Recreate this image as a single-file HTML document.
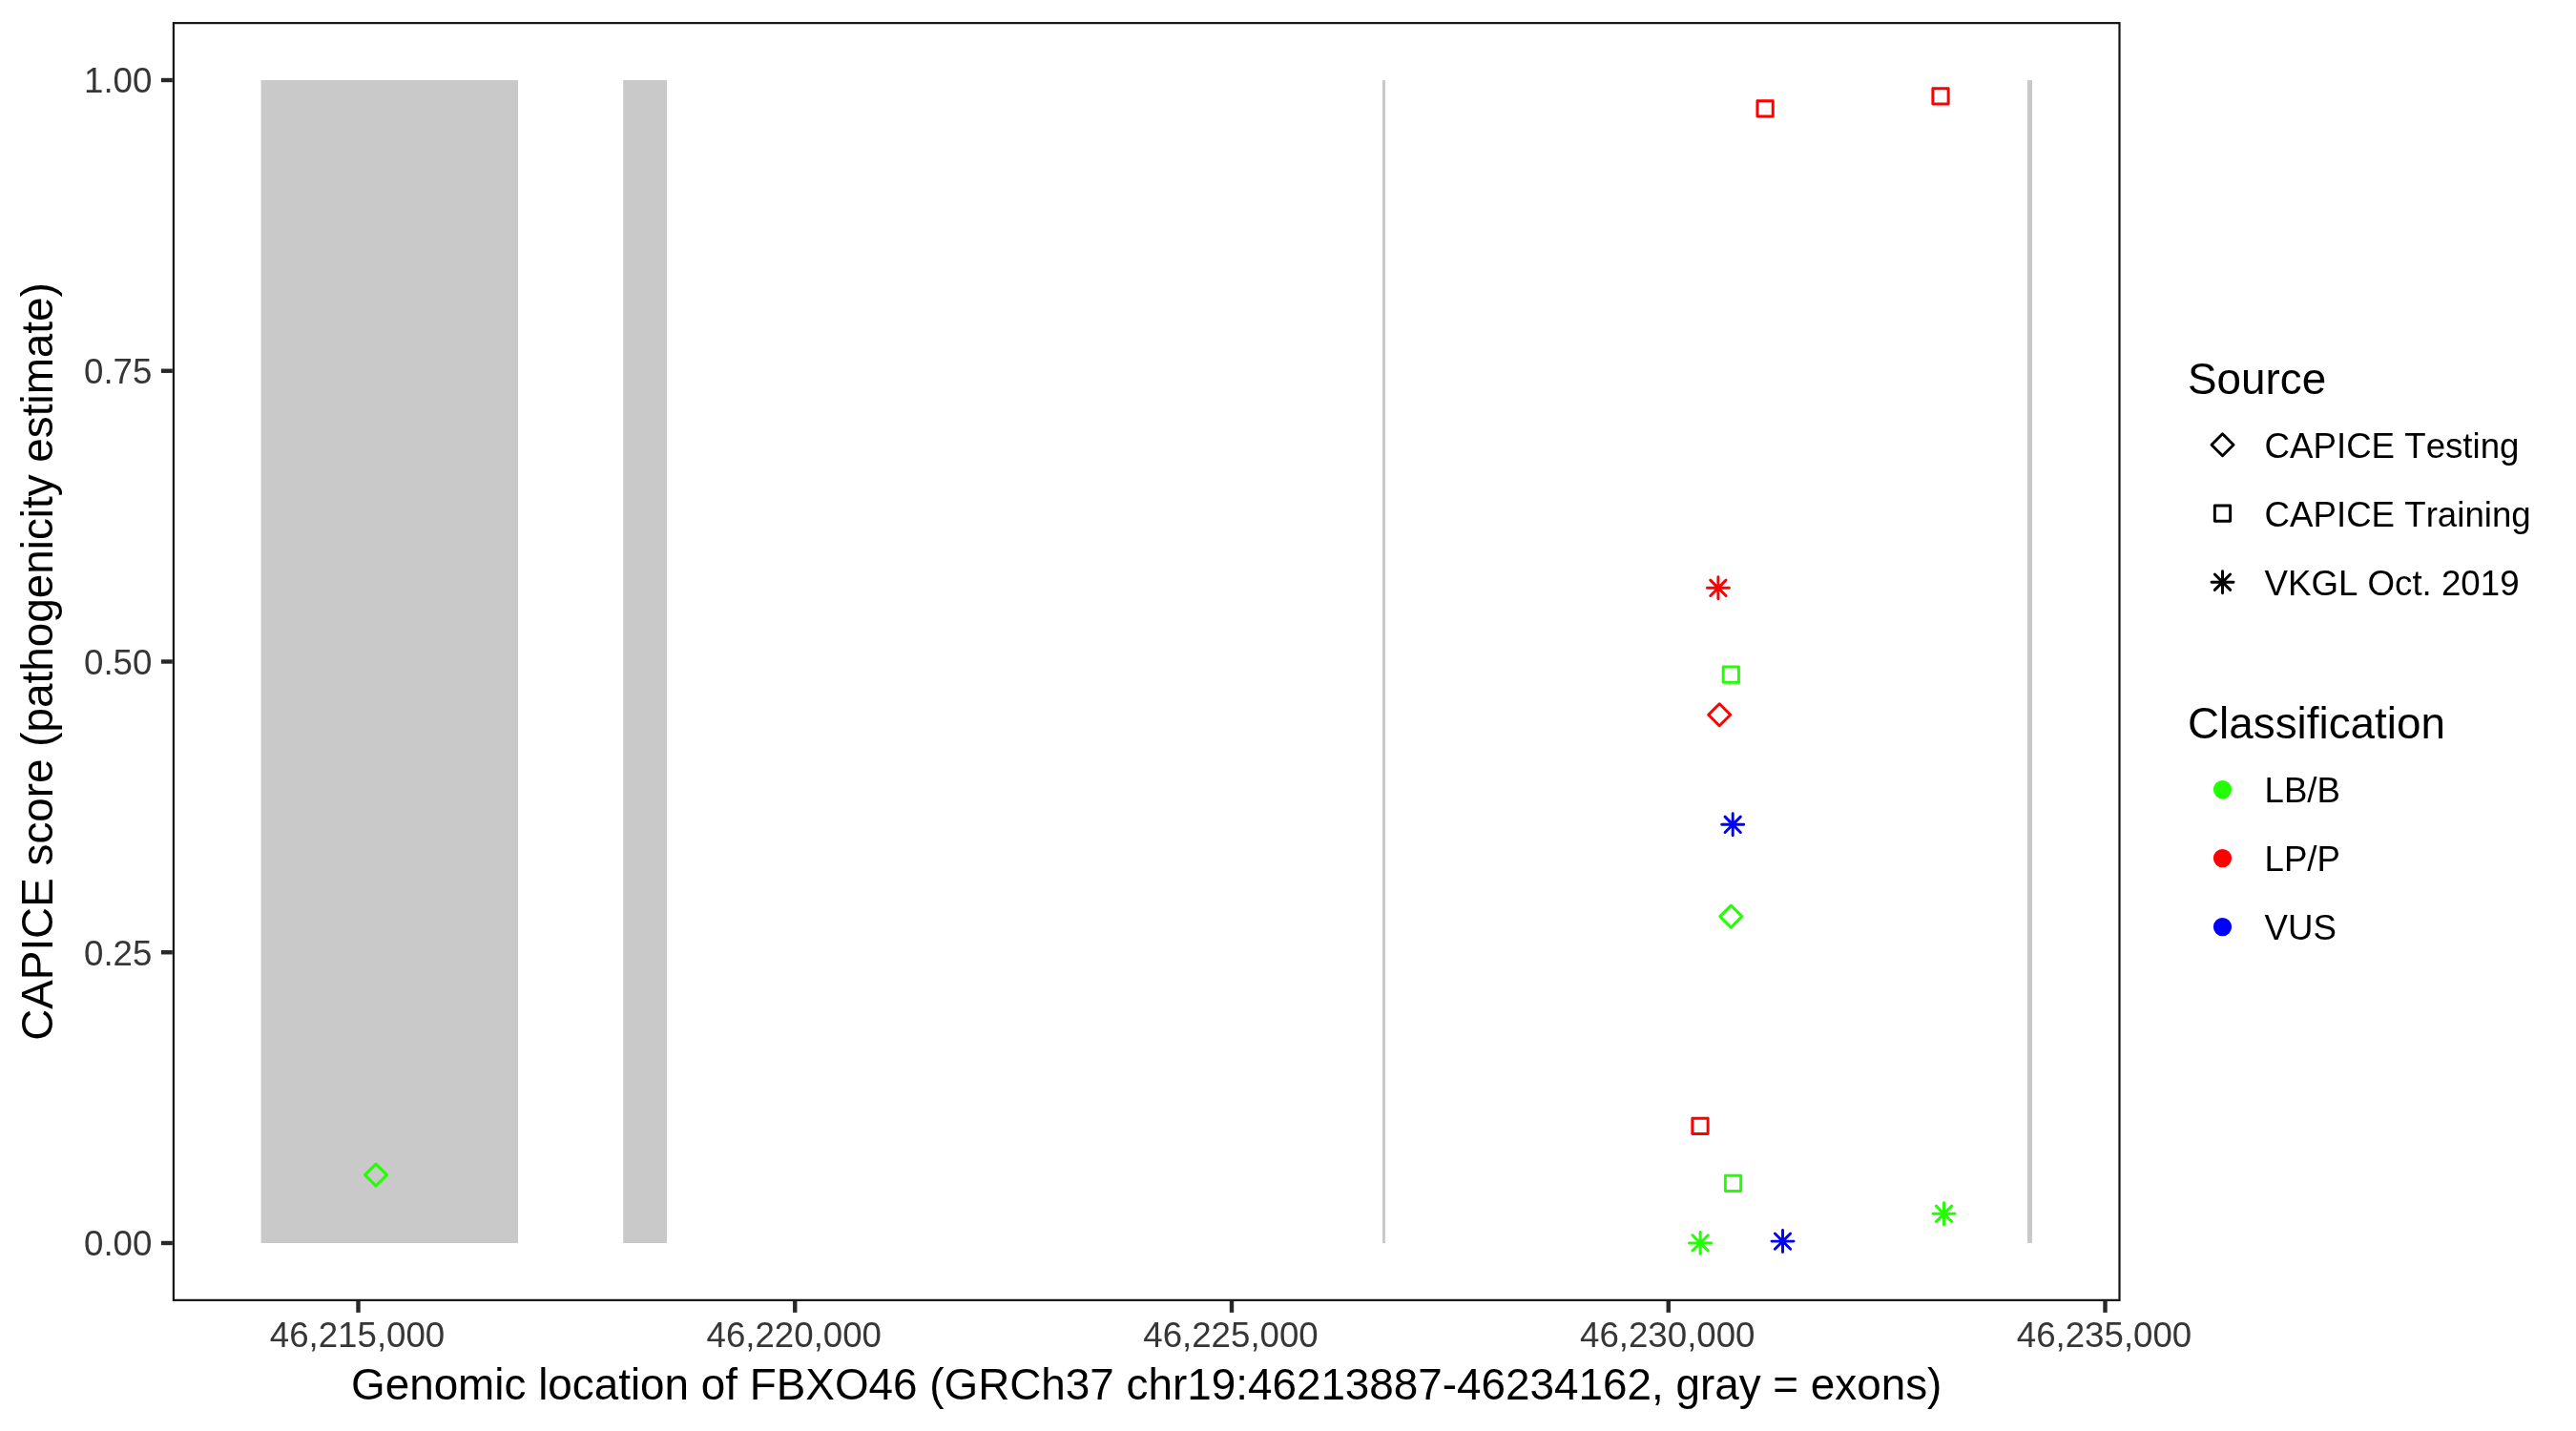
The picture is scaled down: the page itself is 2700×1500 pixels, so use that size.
<!DOCTYPE html><html><head><meta charset="utf-8"><style>html,body{margin:0;padding:0;background:#fff;}svg{display:block;will-change:transform;}text{font-family:"Liberation Sans",sans-serif;font-kerning:none;}</style></head><body>
<svg width="2700" height="1500" viewBox="0 0 2700 1500">
<rect x="0" y="0" width="2700" height="1500" fill="#fff"/>
<rect x="273.6" y="84.0" width="269.40" height="1219.00" fill="#C9C9C9"/>
<rect x="653.2" y="84.0" width="45.80" height="1219.00" fill="#C9C9C9"/>
<rect x="1449.0" y="84.0" width="3.00" height="1219.00" fill="#C9C9C9"/>
<rect x="2125.0" y="84.0" width="5.00" height="1219.00" fill="#C9C9C9"/>
<path d="M382.49 1231.60L394.00 1220.09L405.51 1231.60L394.00 1243.11Z" fill="none" stroke="#22FF00" stroke-width="2.95" stroke-linejoin="round"/>
<rect x="1841.96" y="105.76" width="16.28" height="16.28" fill="none" stroke="#FF0000" stroke-width="2.95" stroke-linejoin="round"/>
<rect x="2025.86" y="92.66" width="16.28" height="16.28" fill="none" stroke="#FF0000" stroke-width="2.95" stroke-linejoin="round"/>
<path d="M1792.76 608.16L1809.04 624.44M1792.76 624.44L1809.04 608.16M1789.39 616.30L1812.41 616.30M1800.90 604.79L1800.90 627.81" fill="none" stroke="#FF0000" stroke-width="2.95" stroke-linecap="round"/>
<rect x="1806.16" y="698.96" width="16.28" height="16.28" fill="none" stroke="#22FF00" stroke-width="2.95" stroke-linejoin="round"/>
<path d="M1790.69 749.20L1802.20 737.69L1813.71 749.20L1802.20 760.71Z" fill="none" stroke="#FF0000" stroke-width="2.95" stroke-linejoin="round"/>
<path d="M1808.06 856.16L1824.34 872.44M1808.06 872.44L1824.34 856.16M1804.69 864.30L1827.71 864.30M1816.20 852.79L1816.20 875.81" fill="none" stroke="#0000FF" stroke-width="2.95" stroke-linecap="round"/>
<path d="M1802.79 960.60L1814.30 949.09L1825.81 960.60L1814.30 972.11Z" fill="none" stroke="#22FF00" stroke-width="2.95" stroke-linejoin="round"/>
<rect x="1773.86" y="1172.16" width="16.28" height="16.28" fill="none" stroke="#FF0000" stroke-width="2.95" stroke-linejoin="round"/>
<rect x="1808.36" y="1232.26" width="16.28" height="16.28" fill="none" stroke="#22FF00" stroke-width="2.95" stroke-linejoin="round"/>
<path d="M1773.96 1294.76L1790.24 1311.04M1773.96 1311.04L1790.24 1294.76M1770.59 1302.90L1793.61 1302.90M1782.10 1291.39L1782.10 1314.41" fill="none" stroke="#22FF00" stroke-width="2.95" stroke-linecap="round"/>
<path d="M1860.36 1292.96L1876.64 1309.24M1860.36 1309.24L1876.64 1292.96M1856.99 1301.10L1880.01 1301.10M1868.50 1289.59L1868.50 1312.61" fill="none" stroke="#0000FF" stroke-width="2.95" stroke-linecap="round"/>
<path d="M2029.36 1264.16L2045.64 1280.44M2029.36 1280.44L2045.64 1264.16M2025.99 1272.30L2049.01 1272.30M2037.50 1260.79L2037.50 1283.81" fill="none" stroke="#22FF00" stroke-width="2.95" stroke-linecap="round"/>
<rect x="181.90" y="24.15" width="2039.60" height="1338.70" fill="none" stroke="#141414" stroke-width="2.20"/>
<rect x="168.90" y="1300.80" width="11.9" height="4.4" fill="#282828"/>
<text x="159.4" y="1316.40" font-size="36.67" fill="#363636" text-anchor="end">0.00</text>
<rect x="168.90" y="996.05" width="11.9" height="4.4" fill="#282828"/>
<text x="159.4" y="1011.65" font-size="36.67" fill="#363636" text-anchor="end">0.25</text>
<rect x="168.90" y="691.30" width="11.9" height="4.4" fill="#282828"/>
<text x="159.4" y="706.90" font-size="36.67" fill="#363636" text-anchor="end">0.50</text>
<rect x="168.90" y="386.55" width="11.9" height="4.4" fill="#282828"/>
<text x="159.4" y="402.15" font-size="36.67" fill="#363636" text-anchor="end">0.75</text>
<rect x="168.90" y="81.80" width="11.9" height="4.4" fill="#282828"/>
<text x="159.4" y="97.40" font-size="36.67" fill="#363636" text-anchor="end">1.00</text>
<rect x="373.30" y="1363.95" width="4.4" height="11.9" fill="#282828"/>
<text x="374.50" y="1412" font-size="36.67" fill="#363636" text-anchor="middle">46,215,000</text>
<rect x="831.05" y="1363.95" width="4.4" height="11.9" fill="#282828"/>
<text x="832.25" y="1412" font-size="36.67" fill="#363636" text-anchor="middle">46,220,000</text>
<rect x="1288.80" y="1363.95" width="4.4" height="11.9" fill="#282828"/>
<text x="1290.00" y="1412" font-size="36.67" fill="#363636" text-anchor="middle">46,225,000</text>
<rect x="1746.55" y="1363.95" width="4.4" height="11.9" fill="#282828"/>
<text x="1747.75" y="1412" font-size="36.67" fill="#363636" text-anchor="middle">46,230,000</text>
<rect x="2204.30" y="1363.95" width="4.4" height="11.9" fill="#282828"/>
<text x="2205.50" y="1412" font-size="36.67" fill="#363636" text-anchor="middle">46,235,000</text>
<text x="1201.70" y="1467.2" font-size="45.83" fill="#000" text-anchor="middle">Genomic location of FBXO46 (GRCh37 chr19:46213887-46234162, gray = exons)</text>
<text transform="translate(55,693.50) rotate(-90)" x="0" y="0" font-size="45.83" fill="#000" text-anchor="middle">CAPICE score (pathogenicity estimate)</text>
<text x="2293.0" y="413.2" font-size="45.83" fill="#000">Source</text>
<path d="M2317.99 466.20L2329.50 454.69L2341.01 466.20L2329.50 477.71Z" fill="none" stroke="#000" stroke-width="2.95" stroke-linejoin="round"/>
<text x="2373.6" y="479.70" font-size="36.67" fill="#000">CAPICE Testing</text>
<rect x="2321.36" y="530.06" width="16.28" height="16.28" fill="none" stroke="#000" stroke-width="2.95" stroke-linejoin="round"/>
<text x="2373.6" y="551.70" font-size="36.67" fill="#000">CAPICE Training</text>
<path d="M2321.36 602.06L2337.64 618.34M2321.36 618.34L2337.64 602.06M2317.99 610.20L2341.01 610.20M2329.50 598.69L2329.50 621.71" fill="none" stroke="#000" stroke-width="2.95" stroke-linecap="round"/>
<text x="2373.6" y="623.70" font-size="36.67" fill="#000">VKGL Oct. 2019</text>
<text x="2293.0" y="774.2" font-size="45.83" fill="#000">Classification</text>
<circle cx="2329.5" cy="827.60" r="8.14" fill="#22FF00" stroke="#22FF00" stroke-width="2.95"/>
<text x="2373.5" y="841.20" font-size="36.67" fill="#000">LB/B</text>
<circle cx="2329.5" cy="899.60" r="8.14" fill="#FF0000" stroke="#FF0000" stroke-width="2.95"/>
<text x="2373.5" y="913.20" font-size="36.67" fill="#000">LP/P</text>
<circle cx="2329.5" cy="971.60" r="8.14" fill="#0000FF" stroke="#0000FF" stroke-width="2.95"/>
<text x="2373.5" y="985.20" font-size="36.67" fill="#000">VUS</text>
</svg></body></html>
